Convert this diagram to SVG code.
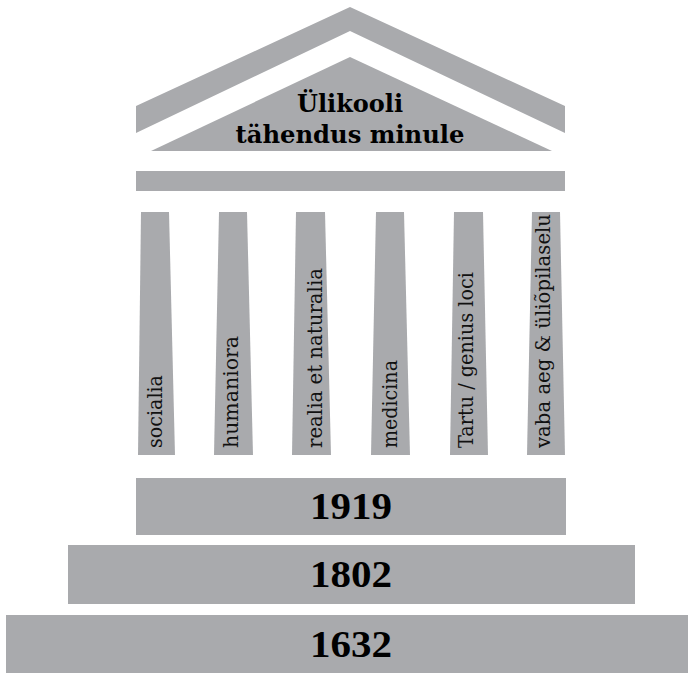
<svg xmlns="http://www.w3.org/2000/svg" width="688" height="673" viewBox="0 0 688 673">
<style>
.g{fill:#a9aaad}
.col{font-family:"DejaVu Serif","Liberation Serif",serif;font-size:20px;fill:#111}
.title{font-family:"DejaVu Serif","Liberation Serif",serif;font-weight:bold;font-size:24px;fill:#000;text-anchor:middle}
.year{font-family:"Liberation Serif","DejaVu Serif",serif;font-weight:bold;font-size:38px;fill:#000;text-anchor:middle}
</style>
<rect width="688" height="673" fill="#fff"/>
<g id="roof">
<polygon class="g" points="136,106 350,7 565,106 565,133 350,31 136,133"/>
</g>
<g id="pediment">
<polygon class="g" points="151,151 350,57 552,151"/>
<text class="title" x="350" y="112">Ülikooli</text>
<text class="title" x="350" y="143" textLength="229" lengthAdjust="spacingAndGlyphs">tähendus minule</text>
</g>
<g id="entablature">
<rect class="g" x="136" y="171" width="429" height="20"/>
</g>
<g id="col-socialia">
<polygon class="g" points="141,212 169,212 175,455 138,455"/>
<text class="col" transform="translate(162,448) rotate(-90)" textLength="73" lengthAdjust="spacingAndGlyphs">socialia</text>
</g>
<g id="col-humaniora">
<polygon class="g" points="219,212 247,212 253,455 214,455"/>
<text class="col" transform="translate(238,448) rotate(-90)" textLength="112" lengthAdjust="spacingAndGlyphs">humaniora</text>
</g>
<g id="col-realia">
<polygon class="g" points="296,212 325,212 331,455 292,455"/>
<text class="col" transform="translate(322,448) rotate(-90)" textLength="180" lengthAdjust="spacingAndGlyphs">realia et naturalia</text>
</g>
<g id="col-medicina">
<polygon class="g" points="376,212 404,212 410,455 371,455"/>
<text class="col" transform="translate(397,448) rotate(-90)" textLength="88" lengthAdjust="spacingAndGlyphs">medicina</text>
</g>
<g id="col-tartu">
<polygon class="g" points="454,212 483,212 488,455 450,455"/>
<text class="col" transform="translate(473,448) rotate(-90)" textLength="176" lengthAdjust="spacingAndGlyphs">Tartu / genius loci</text>
</g>
<g id="col-vaba">
<polygon class="g" points="532,212 560,212 565,455 527,455"/>
<text class="col" transform="translate(550,448) rotate(-90)" textLength="234" lengthAdjust="spacingAndGlyphs">vaba aeg &amp; üliõpilaselu</text>
</g>
<g id="step-1919">
<rect class="g" x="136" y="478" width="430" height="57"/>
<text class="year" x="351" y="519" textLength="82" lengthAdjust="spacingAndGlyphs">1919</text>
</g>
<g id="step-1802">
<rect class="g" x="68" y="545" width="567" height="59"/>
<text class="year" x="351" y="587" textLength="82" lengthAdjust="spacingAndGlyphs">1802</text>
</g>
<g id="step-1632">
<rect class="g" x="6" y="615" width="682" height="58"/>
<text class="year" x="351" y="657" textLength="82" lengthAdjust="spacingAndGlyphs">1632</text>
</g>
<g id="connectors"/>
</svg>
